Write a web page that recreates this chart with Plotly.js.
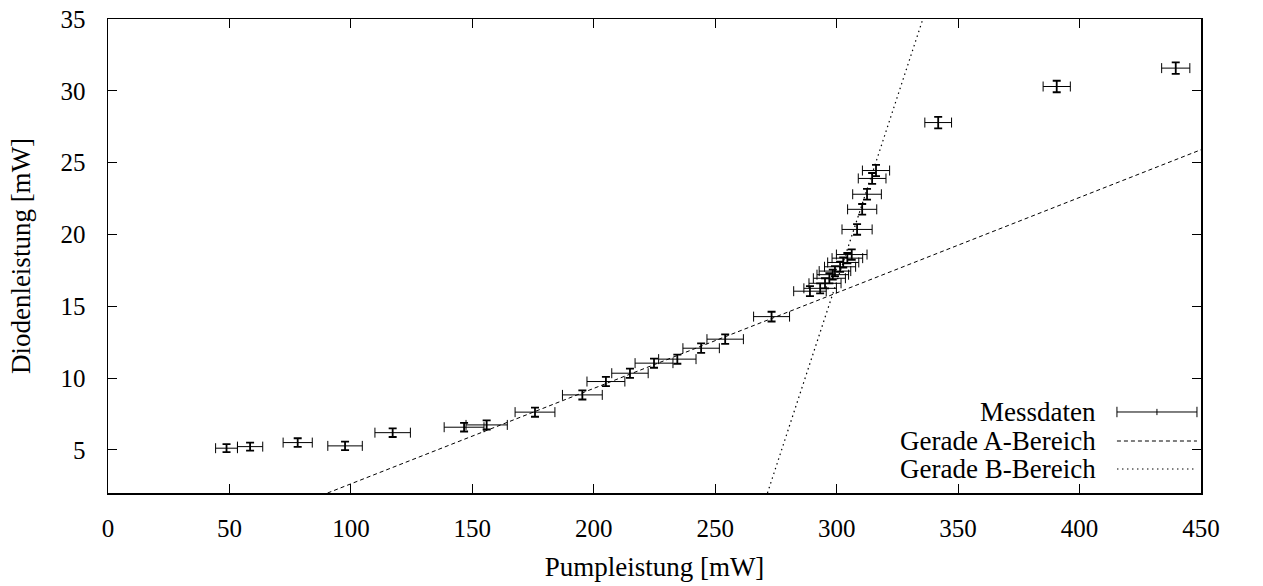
<!DOCTYPE html>
<html>
<head>
<meta charset="utf-8">
<script src="https://cdn.plot.ly/plotly-3.0.1.min.js"></script>
<style>
  html, body { margin: 0; padding: 0; background: #fff; }
  #chart { width: 1263px; height: 586px; }
</style>
</head>
<body>
<div id="chart"></div>
<script>
// Measured data (Pumpleistung, Diodenleistung) with errors
const pumpPower = [48.8, 58.5, 78.1, 97.6, 117.2, 146.6, 155.9, 175.8, 195.3, 205.0, 214.9, 224.8, 234.4, 244.2, 254.1, 273.2,
                   289.0, 293.2, 295.2, 297.0, 298.4, 299.3, 301.4, 302.7, 304.4, 306.2,
                   308.4, 310.5, 312.5, 314.6, 316.2, 341.8, 390.6, 439.6];
const diodePower = [5.12, 5.23, 5.51, 5.28, 6.20, 6.58, 6.74, 7.63, 8.83, 9.76, 10.34, 11.04, 11.32, 12.08, 12.71, 14.28,
                    16.05, 16.25, 16.60, 16.95, 17.20, 17.45, 17.75, 18.05, 18.35, 18.60,
                    20.35, 21.75, 22.80, 23.90, 24.45, 27.79, 30.30, 31.58];
const pumpErr = [4.5, 5.2, 6.0, 7.1, 7.3, 8.2, 8.5, 8.2, 8.2, 7.8, 7.5, 7.8, 7.7, 7.5, 7.5, 7.4,
                 6.7, 6.7, 6.6, 6.6, 6.5, 6.5, 6.4, 6.4, 6.3, 6.3,
                 6.2, 6.0, 5.9, 5.7, 5.6, 5.5, 5.6, 5.8];
const diodeErr = [0.28, 0.28, 0.30, 0.30, 0.30, 0.30, 0.32, 0.32, 0.32, 0.32, 0.32, 0.32, 0.32, 0.33, 0.33, 0.34,
                  0.35, 0.35, 0.35, 0.35, 0.35, 0.35, 0.35, 0.35, 0.36, 0.36,
                  0.37, 0.37, 0.38, 0.38, 0.39, 0.40, 0.40, 0.40];

// Fit lines (endpoints)
const lineA_x = [90.4, 450];
const lineA_y = [2, 25.9];
const lineB_x = [271.5, 335.5];
const lineB_y = [2, 35];

// Labels
const legendLabels = ["Messdaten", "Gerade A-Bereich", "Gerade B-Bereich"];
const xTitle = "Pumpleistung [mW]";
const yTitle = "Diodenleistung [mW]";
const xTicks = [0, 50, 100, 150, 200, 250, 300, 350, 400, 450];
const yTicks = [5, 10, 15, 20, 25, 30, 35];

const FONT = "Liberation Serif, Times New Roman, serif";

const traces = [
  {
    x: pumpPower, y: diodePower, type: "scatter", mode: "markers",
    marker: { size: 1, color: "black" },
    error_x: { type: "data", array: pumpErr, visible: true, color: "black", thickness: 1, width: 5 },
    error_y: { type: "data", array: diodeErr, visible: true, color: "black", thickness: 1.8, width: 4 },
    showlegend: false, hoverinfo: "x+y"
  },
  {
    x: lineA_x, y: lineA_y, type: "scatter", mode: "lines",
    line: { color: "black", width: 1, dash: "4px,3px" }, showlegend: false
  },
  {
    x: lineB_x, y: lineB_y, type: "scatter", mode: "lines",
    line: { color: "black", width: 1.2, dash: "1.5px,3.5px" }, showlegend: false
  }
];

// custom gnuplot-style key (text left, sample right)
const textX = 0.9058, s0 = 0.9231, s1 = 0.9963;
const rows = [0.1709, 0.1097, 0.0506];
const annotations = legendLabels.map((t, i) => ({
  text: t, xref: "paper", yref: "paper", x: textX, y: rows[i],
  xanchor: "right", yanchor: "middle", showarrow: false,
  font: { family: FONT, size: 27, color: "black" }
}));
const capH = 0.011;
const shapes = [
  { type: "line", xref: "paper", yref: "paper", x0: s0, x1: s1, y0: rows[0], y1: rows[0], line: { color: "black", width: 1 } },
  { type: "line", xref: "paper", yref: "paper", x0: s0, x1: s0, y0: rows[0] - capH, y1: rows[0] + capH, line: { color: "black", width: 1 } },
  { type: "line", xref: "paper", yref: "paper", x0: s1, x1: s1, y0: rows[0] - capH, y1: rows[0] + capH, line: { color: "black", width: 1 } },
  { type: "line", xref: "paper", yref: "paper", x0: (s0 + s1) / 2, x1: (s0 + s1) / 2, y0: rows[0] - capH * 0.6, y1: rows[0] + capH * 0.6, line: { color: "black", width: 1 } },
  { type: "line", xref: "paper", yref: "paper", x0: s0, x1: s1, y0: rows[1], y1: rows[1], line: { color: "black", width: 1, dash: "4px,3px" } },
  { type: "line", xref: "paper", yref: "paper", x0: s0, x1: s1, y0: rows[2], y1: rows[2], line: { color: "black", width: 1.2, dash: "1.5px,3.5px" } }
];

const axisCommon = {
  showline: true, linecolor: "black", linewidth: 1.5, mirror: "ticks",
  ticks: "inside", ticklen: 9, tickwidth: 1, tickcolor: "black",
  showgrid: false, zeroline: false,
  tickfont: { family: FONT, size: 25, color: "black" }
};

const layout = {
  width: 1263, height: 586,
  margin: { l: 108, r: 62, t: 19, b: 93 },
  paper_bgcolor: "white", plot_bgcolor: "white",
  showlegend: false,
  font: { family: FONT, size: 25, color: "black" },
  xaxis: Object.assign({}, axisCommon, {
    range: [0, 450], tickvals: xTicks, ticktext: xTicks.map(String),
    ticklabelstandoff: 12,
    title: { text: xTitle, font: { family: FONT, size: 27, color: "black" }, standoff: 16 }
  }),
  yaxis: Object.assign({}, axisCommon, {
    range: [2, 35], tickvals: yTicks, ticktext: yTicks.map(String),
    ticklabelstandoff: 16,
    title: { text: yTitle, font: { family: FONT, size: 27, color: "black" }, standoff: 22 }
  }),
  annotations: annotations,
  shapes: shapes
};

Plotly.newPlot("chart", traces, layout, { displayModeBar: false, staticPlot: true });
</script>
</body>
</html>
